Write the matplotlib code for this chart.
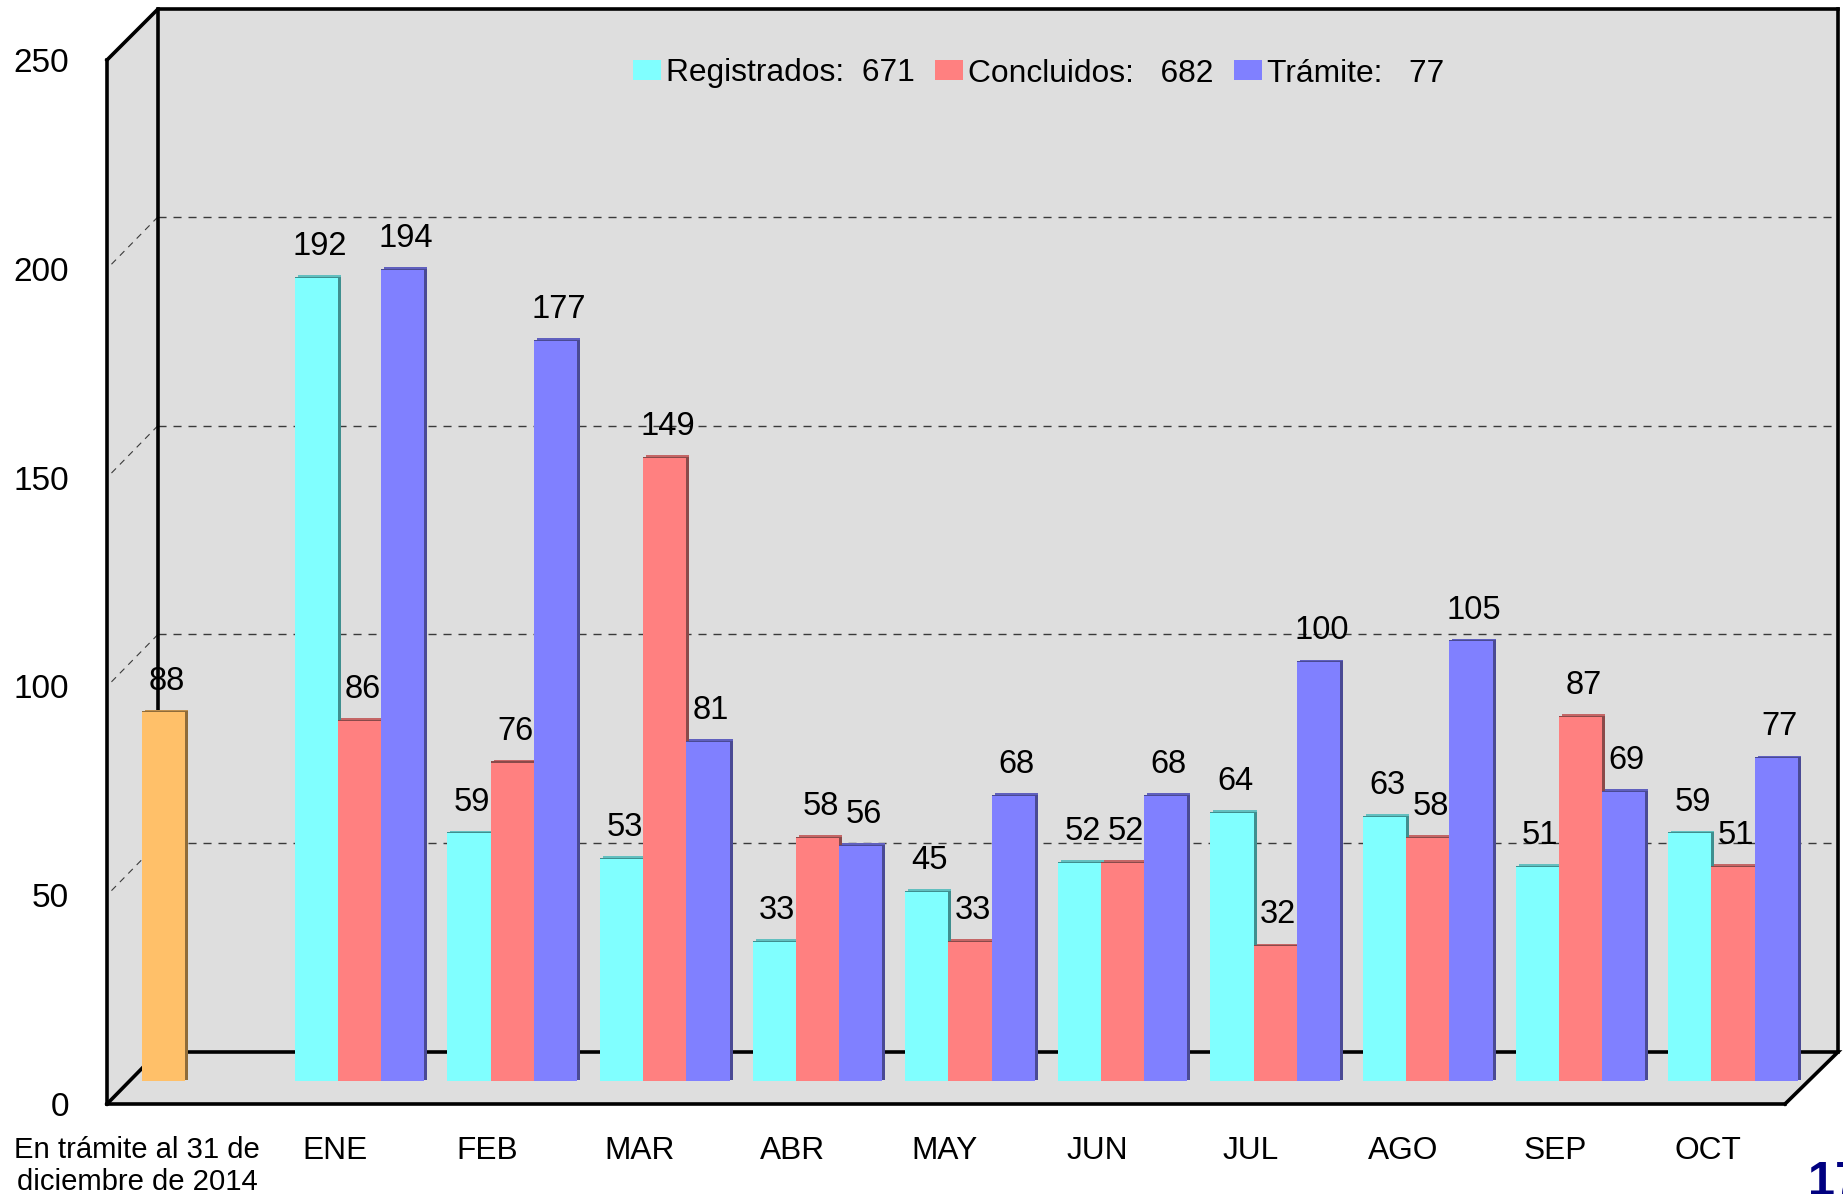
import matplotlib
matplotlib.use("Agg")
import matplotlib.pyplot as plt
from matplotlib.patches import Polygon, Patch
import numpy as np

plt.rcParams['font.family'] = ['Liberation Sans', 'DejaVu Sans']

W, H = 1843, 1194
months = ["ENE", "FEB", "MAR", "ABR", "MAY", "JUN", "JUL", "AGO", "SEP", "OCT"]
registrados = [192, 59, 53, 33, 45, 52, 64, 63, 51, 59]
concluidos = [86, 76, 149, 58, 33, 52, 32, 58, 87, 51]
tramite = [194, 177, 81, 56, 68, 68, 100, 105, 69, 77]
arrastre = [88]
first_label = "En trámite al 31 de\ndiciembre de 2014"
yticks = [0, 50, 100, 150, 200, 250]
legend_labels = ["Registrados:  671", "Concluidos:   682", "Trámite:   77"]

CYAN, RED, BLUE, ORANGE = "#80FFFF", "#FF8080", "#8080FF", "#FFC069"
CYAN_S, RED_S, BLUE_S, ORANGE_S = "#3F8F8F", "#8A4A4A", "#4A4A94", "#8F6C3A"
CYAN_T, RED_T, BLUE_T, ORANGE_T = "#62BFBF", "#C46666", "#6060BE", "#BF9050"
WALL = "#DEDEDE"

PX_Y = 4.176          # pixels per value
PERIOD = 152.6        # pixels per month
X0 = 207.0            # pixel of group index 0
BAR = 43.2 / PERIOD   # bar width in group units
ORIGIN = 1078.0       # pixel row of value 0 for the bars
SKIRT = 0.7           # bars run slightly below value 0

fig = plt.figure(figsize=(W / 100, H / 100), dpi=100, facecolor="white")

# ---- walls, in pixel coordinates
frame = fig.add_axes([0, 0, 1, 1], zorder=0)
frame.set_xlim(0, W)
frame.set_ylim(H, 0)
frame.axis("off")
frame.add_patch(Polygon([(158, 9), (1838, 9), (1838, 1052), (158, 1052)], fc=WALL, ec="none"))
frame.add_patch(Polygon([(107, 60), (158, 9), (158, 1052), (107, 1104)], fc=WALL, ec="none"))
frame.add_patch(Polygon([(107, 1104), (158, 1052), (1838, 1052), (1785, 1104)], fc=WALL, ec="none"))
dash = (0, (5.8, 5))
for v in yticks[1:-1]:
    yb = 1052 - v * PX_Y
    frame.plot([158, 1838], [yb, yb], color="#3A3A3A", lw=1.0, ls=dash)
    frame.plot([158, 107], [yb, 1104 - v * PX_Y], color="#3A3A3A", lw=0.8, ls=dash)
lw = 2.6
frame.plot([107, 158, 1838], [60, 9, 9], color="black", lw=lw, solid_joinstyle="miter")
frame.plot([158, 158], [9, 1052], color="black", lw=lw)
frame.plot([1838, 1838], [9, 1052], color="black", lw=lw)
frame.plot([107, 158, 1838, 1785], [1104, 1052, 1052, 1104], color="black", lw=lw, solid_joinstyle="miter")

# ---- scale axes: y tick labels, category labels, front edges
sc = fig.add_axes([107 / W, 1 - 1104 / H, (1785 - 107) / W, (1104 - 60) / H], zorder=1)
sc.patch.set_alpha(0)
sc.set_xlim((107 - X0) / PERIOD, (1785 - X0) / PERIOD)
sc.set_ylim(0, 250)
sc.set_yticks(yticks)
sc.tick_params(axis="y", length=0, pad=27.3, labelsize=24)
tick_pos = [(137 - X0) / PERIOD] + [i + 1 - 25 / PERIOD for i in range(len(months))]
sc.set_xticks(tick_pos)
sc.set_xticklabels([first_label] + months, fontsize=22.8, linespacing=1.17)
sc.tick_params(axis="x", length=0, pad=23)
sc.get_xticklabels()[0].set_fontsize(21.1)
for s in ("top", "right"):
    sc.spines[s].set_visible(False)
for s in ("left", "bottom"):
    sc.spines[s].set_linewidth(lw)

# ---- bars, value scale shares pixel size with the scale axes
ax = fig.add_axes([0, 0, 1, 1], zorder=2)
ax.patch.set_alpha(0)
ax.set_xlim(-X0 / PERIOD, (W - X0) / PERIOD)
ax.set_ylim((ORIGIN - H) / PX_Y, ORIGIN / PX_Y)
ax.axis("off")


def draw(xs, vals, col, side_col, top_col, zo):
    xs = np.asarray(xs, dtype=float)
    vals = np.asarray(vals, dtype=float)
    side = 3.0 / PERIOD
    ax.bar(xs + side, vals + SKIRT, bottom=-SKIRT + 0.2, width=BAR, color=top_col, lw=0, zorder=zo)
    ax.bar(xs + side / 2, vals + SKIRT - 0.4, bottom=-SKIRT + 0.2, width=BAR + side, color=side_col, lw=0, zorder=zo + 0.05)
    ax.bar(xs, vals + SKIRT - 0.45, bottom=-SKIRT, width=BAR, color=col, lw=0, zorder=zo + 0.1)
    for x, v in zip(xs, vals):
        ax.annotate(f"{int(v)}", (x, v), xytext=(3 * 0.72, 29.5 * 0.72), textcoords="offset points",
                    ha="center", va="center", fontsize=23.5, color="black", zorder=20)


groups = np.arange(1, len(months) + 1)
draw([-BAR], arrastre, ORANGE, ORANGE_S, ORANGE_T, 3)
draw(groups - BAR, registrados, CYAN, CYAN_S, CYAN_T, 3)
draw(groups, concluidos, RED, RED_S, RED_T, 4)
draw(groups + BAR, tramite, BLUE, BLUE_S, BLUE_T, 5)

handles = [Patch(fc=CYAN, ec="none"), Patch(fc=RED, ec="none"), Patch(fc=BLUE, ec="none")]
leg = ax.legend(handles, legend_labels, ncol=3, frameon=False, fontsize=22.85,
                loc="center left", bbox_to_anchor=(633 / W, 1 - 73.5 / H), bbox_transform=fig.transFigure,
                borderpad=0, borderaxespad=0, handlelength=0.88, handleheight=0.6,
                handletextpad=0.15, columnspacing=0.65)

# ---- page number, cut by the edge of the slide
fig.text(1808 / W, 1 - 1195 / H, "17", color="#000080", fontsize=35, fontweight="bold",
         ha="left", va="baseline", zorder=30, clip_on=True)

fig.savefig("out.png", dpi=100, facecolor="white")
